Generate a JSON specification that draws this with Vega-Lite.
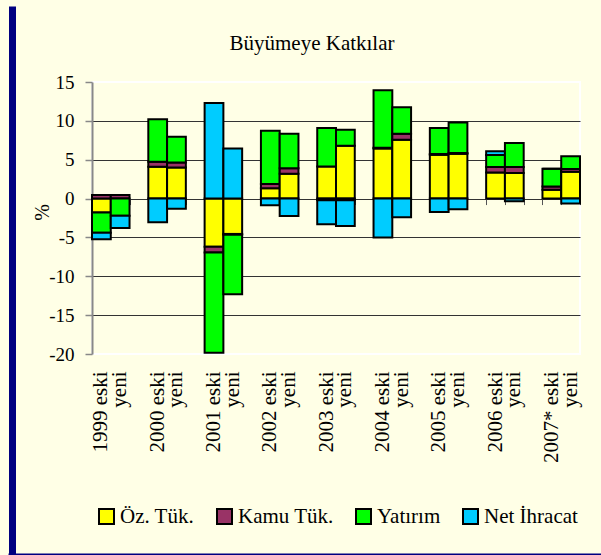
{
  "$schema": "https://vega.github.io/schema/vega-lite/v6.json",
  "width": 488,
  "height": 272,
  "autosize": {"type": "none"},
  "padding": {"left": 92, "top": 82, "right": 21, "bottom": 201},
  "background": "#FFFFE6",
  "config": {
    "font": "Liberation Serif",
    "axis": {"labelFont": "Liberation Serif", "titleFont": "Liberation Serif"},
    "legend": {"labelFont": "Liberation Serif", "titleFont": "Liberation Serif"},
    "title": {"font": "Liberation Serif"},
    "view": {"stroke": "#FFFFFF", "strokeWidth": 2, "fill": "#FFFFE6"}
  },
  "title": {
    "text": "Büyümeye Katkılar",
    "font": "Liberation Serif",
    "fontSize": 21,
    "fontWeight": "normal",
    "color": "#000000",
    "frame": "group",
    "anchor": "middle",
    "dx": -24,
    "dy": 71,
    "offset": 3,
    "baseline": "alphabetic"
  },
  "data": {
    "values": [
      {"c": "1999 eski", "s": "Öz. Tük.", "v": -1.8},
      {"c": "1999 eski", "s": "Kamu Tük.", "v": 0.45},
      {"c": "1999 eski", "s": "Yatırım", "v": -2.6},
      {"c": "1999 eski", "s": "Net İhracat", "v": -0.85},
      {"c": "1999 yeni", "s": "Öz. Tük.", "v": 0},
      {"c": "1999 yeni", "s": "Kamu Tük.", "v": 0.45},
      {"c": "1999 yeni", "s": "Yatırım", "v": -2.2},
      {"c": "1999 yeni", "s": "Net İhracat", "v": -1.6},
      {"c": "2000 eski", "s": "Öz. Tük.", "v": 4.1},
      {"c": "2000 eski", "s": "Kamu Tük.", "v": 0.65},
      {"c": "2000 eski", "s": "Yatırım", "v": 5.45},
      {"c": "2000 eski", "s": "Net İhracat", "v": -3.05},
      {"c": "2000 yeni", "s": "Öz. Tük.", "v": 4.0},
      {"c": "2000 yeni", "s": "Kamu Tük.", "v": 0.65},
      {"c": "2000 yeni", "s": "Yatırım", "v": 3.3},
      {"c": "2000 yeni", "s": "Net İhracat", "v": -1.3},
      {"c": "2001 eski", "s": "Öz. Tük.", "v": -6.2},
      {"c": "2001 eski", "s": "Kamu Tük.", "v": -0.75},
      {"c": "2001 eski", "s": "Yatırım", "v": -12.9},
      {"c": "2001 eski", "s": "Net İhracat", "v": 12.3},
      {"c": "2001 yeni", "s": "Öz. Tük.", "v": -4.55},
      {"c": "2001 yeni", "s": "Kamu Tük.", "v": -0.1},
      {"c": "2001 yeni", "s": "Yatırım", "v": -7.65},
      {"c": "2001 yeni", "s": "Net İhracat", "v": 6.45},
      {"c": "2002 eski", "s": "Öz. Tük.", "v": 1.33},
      {"c": "2002 eski", "s": "Kamu Tük.", "v": 0.56},
      {"c": "2002 eski", "s": "Yatırım", "v": 6.84},
      {"c": "2002 eski", "s": "Net İhracat", "v": -0.86},
      {"c": "2002 yeni", "s": "Öz. Tük.", "v": 3.2},
      {"c": "2002 yeni", "s": "Kamu Tük.", "v": 0.7},
      {"c": "2002 yeni", "s": "Yatırım", "v": 4.45},
      {"c": "2002 yeni", "s": "Net İhracat", "v": -2.25},
      {"c": "2003 eski", "s": "Öz. Tük.", "v": 4.13},
      {"c": "2003 eski", "s": "Kamu Tük.", "v": -0.2},
      {"c": "2003 eski", "s": "Yatırım", "v": 4.95},
      {"c": "2003 eski", "s": "Net İhracat", "v": -3.1},
      {"c": "2003 yeni", "s": "Öz. Tük.", "v": 6.8},
      {"c": "2003 yeni", "s": "Kamu Tük.", "v": -0.2},
      {"c": "2003 yeni", "s": "Yatırım", "v": 2.07},
      {"c": "2003 yeni", "s": "Net İhracat", "v": -3.33},
      {"c": "2004 eski", "s": "Öz. Tük.", "v": 6.45},
      {"c": "2004 eski", "s": "Kamu Tük.", "v": 0.1},
      {"c": "2004 eski", "s": "Yatırım", "v": 7.38},
      {"c": "2004 eski", "s": "Net İhracat", "v": -5.0},
      {"c": "2004 yeni", "s": "Öz. Tük.", "v": 7.57},
      {"c": "2004 yeni", "s": "Kamu Tük.", "v": 0.77},
      {"c": "2004 yeni", "s": "Yatırım", "v": 3.4},
      {"c": "2004 yeni", "s": "Net İhracat", "v": -2.41},
      {"c": "2005 eski", "s": "Öz. Tük.", "v": 5.63},
      {"c": "2005 eski", "s": "Kamu Tük.", "v": 0.1},
      {"c": "2005 eski", "s": "Yatırım", "v": 3.34},
      {"c": "2005 eski", "s": "Net İhracat", "v": -1.72},
      {"c": "2005 yeni", "s": "Öz. Tük.", "v": 5.76},
      {"c": "2005 yeni", "s": "Kamu Tük.", "v": 0.1},
      {"c": "2005 yeni", "s": "Yatırım", "v": 3.94},
      {"c": "2005 yeni", "s": "Net İhracat", "v": -1.38},
      {"c": "2006 eski", "s": "Öz. Tük.", "v": 3.35},
      {"c": "2006 eski", "s": "Kamu Tük.", "v": 0.7},
      {"c": "2006 eski", "s": "Yatırım", "v": 1.55},
      {"c": "2006 eski", "s": "Net İhracat", "v": 0.5},
      {"c": "2006 yeni", "s": "Öz. Tük.", "v": 3.3},
      {"c": "2006 yeni", "s": "Kamu Tük.", "v": 0.75},
      {"c": "2006 yeni", "s": "Yatırım", "v": 3.1},
      {"c": "2006 yeni", "s": "Net İhracat", "v": -0.35},
      {"c": "2007* eski", "s": "Öz. Tük.", "v": 1.15},
      {"c": "2007* eski", "s": "Kamu Tük.", "v": 0.4},
      {"c": "2007* eski", "s": "Yatırım", "v": 2.3},
      {"c": "2007* eski", "s": "Net İhracat", "v": 0},
      {"c": "2007* yeni", "s": "Öz. Tük.", "v": 3.45},
      {"c": "2007* yeni", "s": "Kamu Tük.", "v": 0.35},
      {"c": "2007* yeni", "s": "Yatırım", "v": 1.65},
      {"c": "2007* yeni", "s": "Net İhracat", "v": -0.65}
    ]
  },
  "transform": [
    {"calculate": "indexof(['Öz. Tük.','Kamu Tük.','Yatırım','Net İhracat'], datum.s)", "as": "k"}
  ],
  "layer": [
    {
      "mark": {"type": "bar", "stroke": "#000000", "strokeWidth": 2},
      "encoding": {
        "x": {
          "field": "c",
          "type": "nominal",
          "scale": {
            "domain": ["1999 eski","1999 yeni","gap1","2000 eski","2000 yeni","gap2","2001 eski","2001 yeni","gap3","2002 eski","2002 yeni","gap4","2003 eski","2003 yeni","gap5","2004 eski","2004 yeni","gap6","2005 eski","2005 yeni","gap7","2006 eski","2006 yeni","gap8","2007* eski","2007* yeni"],
            "paddingInner": 0,
            "paddingOuter": 0
          },
          "axis": {
            "title": null,
            "ticks": false,
            "domain": false,
            "labelAngle": -90,
            "labelFont": "Liberation Serif",
            "labelFontSize": 21,
            "labelPadding": 17,
            "labelColor": "#000000",
            "labelLimit": 0,
            "labelExpr": "indexof(datum.value, 'gap') == 0 ? '' : (indexof(datum.value, ' yeni') > 0 ? 'yeni' : datum.value)"
          }
        },
        "y": {
          "field": "v",
          "type": "quantitative",
          "stack": "zero",
          "scale": {"domain": [-20, 15], "nice": false, "zero": false},
          "axis": {
            "values": [-20, -15, -10, -5, 0, 5, 10, 15],
            "labelOverlap": false,
            "grid": true,
            "gridColor": {"condition": {"test": "datum.value == 15 || datum.value == -20", "value": "#FFFFFF"}, "value": "#333333"},
            "gridWidth": 1,
            "domainColor": "#888888",
            "domainWidth": 2,
            "tickColor": "#888888",
            "tickSize": 7,
            "tickWidth": 1.5,
            "labelFont": "Liberation Serif",
            "labelFontSize": 19,
            "labelPadding": 11,
            "labelColor": "#000000",
            "labelExpr": "'' + datum.value",
            "title": "%",
            "titleFont": "Liberation Serif",
            "titleFontSize": 20,
            "titleFontWeight": "normal",
            "titleColor": "#000000",
            "titleX": -40,
            "titleY": 130
          }
        },
        "color": {
          "field": "s",
          "type": "nominal",
          "scale": {
            "domain": ["Öz. Tük.", "Kamu Tük.", "Yatırım", "Net İhracat"],
            "range": ["#FFFF00", "#993366", "#00FF00", "#00CCFF"]
          },
          "legend": {
            "orient": "none",
            "legendX": 4,
            "legendY": 424,
            "direction": "horizontal",
            "title": null,
            "symbolType": "square",
            "symbolSize": 225,
            "symbolStrokeColor": "#000000",
            "symbolStrokeWidth": 2,
            "symbolOpacity": 1,
            "labelFont": "Liberation Serif",
            "labelFontSize": 21,
            "labelOffset": 3,
            "columnPadding": 18,
            "labelColor": "#000000",
            "labelLimit": 0
          }
        },
        "order": {"field": "k", "type": "quantitative"}
      }
    },
    {
      "mark": {"type": "rule", "opacity": 0},
      "encoding": {
        "x": {
          "field": "c",
          "type": "nominal",
          "axis": {
            "orient": "bottom",
            "offset": -155.43,
            "labels": false,
            "ticks": true,
            "tickBand": "extent",
            "tickSize": 6,
            "tickColor": "#555555",
            "domain": false,
            "title": null
          }
        }
      }
    },
    {
      "mark": {"type": "rule", "opacity": 0},
      "encoding": {
        "x": {
          "field": "c",
          "type": "nominal",
          "axis": {
            "orient": "top",
            "offset": 76,
            "values": ["1999 eski"],
            "bandPosition": 0,
            "labels": false,
            "ticks": true,
            "tickSize": -549,
            "tickWidth": 7,
            "tickOffset": -80.5,
            "tickColor": "#000080",
            "tickOpacity": 1,
            "domain": false,
            "grid": false,
            "title": null
          }
        }
      }
    },
    {
      "mark": {"type": "rule", "opacity": 0},
      "encoding": {
        "y": {
          "field": "v",
          "type": "quantitative",
          "axis": {
            "orient": "left",
            "offset": 84,
            "values": [-20],
            "labels": false,
            "ticks": true,
            "tickSize": -620,
            "tickWidth": 4,
            "tickOffset": 201,
            "tickColor": "#000080",
            "tickOpacity": 1,
            "domain": false,
            "grid": false,
            "title": null
          }
        }
      }
    }
  ],
  "resolve": {"axis": {"x": "independent", "y": "independent"}}
}
